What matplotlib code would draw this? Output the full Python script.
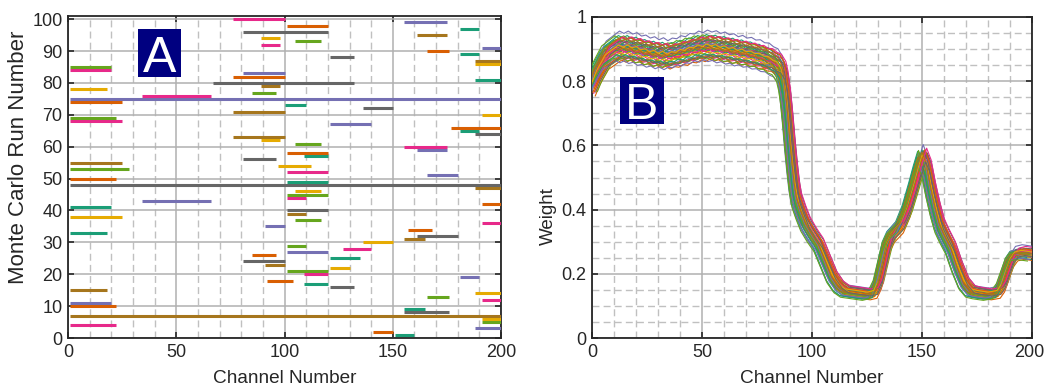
import matplotlib
matplotlib.use('Agg')
import matplotlib.pyplot as plt
from matplotlib.patches import Rectangle
from matplotlib.ticker import MultipleLocator
from matplotlib.transforms import ScaledTranslation

plt.rcParams['font.family'] = ['Liberation Sans Narrow', 'Liberation Sans', 'DejaVu Sans']

# Dark2 colour order used by both panels
colors = ['#1b9e77', '#d95f02', '#7570b3', '#e7298a',
          '#66a61e', '#e6ab02', '#a6761d', '#666666']

# Panel A: channel range kept for each Monte Carlo run (runs 1..100)
runs = list(range(1, 101))
seg_start = [151, 141, 188, 1, 191, 191, 1, 155, 155, 1,
             1, 191, 166, 188, 1, 121, 109, 92, 181, 109,
             101, 121, 91, 81, 121, 85, 101, 127, 101, 136,
             155, 161, 1, 157, 91, 191, 105, 1, 101, 101,
             1, 191, 34, 101, 101, 105, 188, 1, 101, 1,
             166, 101, 1, 97, 1, 81, 109, 101, 161, 155,
             105, 89, 76, 188, 181, 177, 121, 1, 1, 191,
             76, 136, 100, 1, 1, 34, 85, 1, 89, 67,
             188, 76, 81, 1, 1, 188, 188, 121, 181, 166,
             191, 89, 105, 89, 161, 81, 181, 101, 155, 76]
seg_end = [160, 150, 200, 22, 200, 200, 200, 176, 165, 22,
           20, 200, 176, 200, 18, 132, 120, 104, 190, 120,
           120, 130, 100, 100, 135, 96, 120, 140, 110, 150,
           165, 180, 18, 168, 100, 200, 117, 25, 110, 120,
           20, 200, 66, 110, 120, 117, 200, 200, 120, 22,
           180, 120, 28, 112, 25, 96, 120, 120, 175, 175,
           117, 98, 100, 200, 190, 200, 140, 25, 22, 200,
           100, 150, 110, 25, 200, 66, 96, 18, 98, 132,
           200, 100, 100, 20, 20, 200, 200, 132, 190, 176,
           200, 98, 117, 98, 175, 120, 190, 120, 175, 100]

# Panel B: typical weight curve
base_ch = [0, 2, 4, 6, 8, 10, 12, 14, 16, 18, 20, 22, 24, 26, 28, 30, 32, 34,
           36, 38, 40, 42, 44, 46, 48, 50, 52, 54, 56, 58, 60, 62, 64, 66, 68,
           70, 72, 74, 76, 78, 80, 82, 84, 86, 87, 88, 89, 90, 91, 92, 93, 95,
           97, 100, 103, 106, 109, 112, 115, 120, 125, 128, 130, 132, 134, 136,
           138, 140, 143, 146, 148, 150, 152, 154, 156, 158, 160, 163, 166, 169,
           172, 175, 180, 184, 186, 188, 190, 192, 195, 200]
base_w = [0.79, 0.825, 0.85, 0.875, 0.885, 0.895, 0.905, 0.898, 0.905, 0.896,
          0.9, 0.89, 0.893, 0.884, 0.888, 0.879, 0.885, 0.876, 0.884, 0.882,
          0.891, 0.888, 0.898, 0.896, 0.905, 0.9, 0.908, 0.902, 0.906, 0.898,
          0.902, 0.894, 0.897, 0.888, 0.892, 0.884, 0.886, 0.878, 0.879, 0.87,
          0.869, 0.858, 0.852, 0.83, 0.80, 0.75, 0.68, 0.60, 0.53, 0.47, 0.43,
          0.39, 0.355, 0.32, 0.29, 0.24, 0.19, 0.16, 0.145, 0.14, 0.135, 0.14,
          0.17, 0.23, 0.29, 0.32, 0.335, 0.35, 0.40, 0.47, 0.52, 0.565, 0.53,
          0.46, 0.40, 0.35, 0.32, 0.28, 0.22, 0.17, 0.145, 0.14, 0.135, 0.14,
          0.16, 0.20, 0.24, 0.26, 0.265, 0.26]

# spread of the Monte Carlo runs around the typical curve
run_shift = [-2.0, 1.5, 0.5, -1.0, 2.5, -0.5, 1.0, -1.5, 0.0, 2.0, -2.5, 0.8,
             -0.8, 1.8, -1.2, 0.3, -0.3, 1.2, -1.8, 2.2, -2.2, 0.6, -0.6, 1.4,
             -1.4, 0.2, -0.2, 1.6, -1.6, 0.9, -0.9, 2.4, -2.4, 0.4, -0.4, 1.1,
             -1.1, 1.9, -1.9, 0.7, -0.7, 1.3, -1.3, 2.1, -2.1, 0.1, -0.1, 1.7]
run_scale = [1.02, 0.97, 1.04, 0.99, 0.96, 1.03, 1.0, 0.98, 1.05, 0.97, 1.01,
             0.96, 1.03, 0.99, 1.02, 0.98, 1.04, 0.97, 1.0, 1.03, 0.96, 1.01,
             0.99, 1.04, 0.98, 1.02, 0.97, 1.0, 1.05, 0.98, 1.01, 0.99, 1.03,
             0.96, 1.02, 0.98, 1.04, 0.97, 1.0, 1.01, 0.99, 1.03, 0.96, 1.02,
             0.98, 1.0, 1.04, 0.97]
run_offset = [0.005, -0.012, 0.015, -0.004, 0.01, -0.018, 0.0, 0.012, -0.008,
              0.018, -0.015, 0.004, -0.01, 0.008, -0.002, 0.014, -0.016, 0.002,
              0.01, -0.006, 0.016, -0.012, 0.006, -0.004, 0.012, -0.014, 0.0,
              0.009, -0.009, 0.003, -0.003, 0.017, -0.017, 0.007, -0.007, 0.011,
              -0.011, 0.001, -0.001, 0.013, -0.013, 0.005, -0.005, 0.015, -0.015,
              0.008, -0.008, 0.0]

x_ticks = [0, 50, 100, 150, 200]
box_color = '#000080'
grid_major = '#b0b0b0'
grid_minor = '#c0c0c0'
text_color = '#262626'
wide_font = ['Liberation Sans', 'DejaVu Sans']


def style_axes(ax):
    ax.grid(True, which='major', color=grid_major, lw=1.1, ls='-', zorder=0)
    ax.grid(True, which='minor', color=grid_minor, lw=1.0, ls=(0, (5, 3)), zorder=0)
    ax.set_axisbelow(True)
    ax.tick_params(which='major', direction='in', length=4, width=1.2,
                   top=True, right=True, labelsize=13, colors=text_color, pad=4)
    ax.tick_params(which='minor', length=0)
    for s in ax.spines.values():
        s.set_linewidth(1.3)
        s.set_color(text_color)
    ax.set_xlim(0, 200)
    ax.set_xticks(x_ticks)
    ax.xaxis.set_minor_locator(MultipleLocator(10))
    ax.set_xlabel('Channel Number', fontsize=13.7, color=text_color)
    ax.xaxis.set_label_coords(0.5, -0.1)


fig = plt.figure(figsize=(10.45, 3.89), dpi=100)

# ---- panel A
axA = fig.add_axes([0.0651, 0.1311, 0.4144, 0.8278])
style_axes(axA)
for r, a, b in zip(runs, seg_start, seg_end):
    axA.plot([a, b], [r, r], color=colors[(r - 1) % 8], lw=2.2,
             solid_capstyle='butt', zorder=3)
axA.set_ylim(0, 101)
axA.yaxis.set_major_locator(MultipleLocator(10))
axA.set_ylabel('Monte Carlo Run Number', fontsize=16, color=text_color,
               family=wide_font)
axA.yaxis.set_label_coords(-0.09, 0.56)
axA.add_patch(Rectangle((0.161, 0.81), 0.10, 0.15, transform=axA.transAxes,
                        fc=box_color, ec='none', zorder=5))
axA.text(0.211, 0.826, 'A', transform=axA.transAxes, color='white',
         fontsize=36, ha='center', va='baseline', zorder=6, family=wide_font)

# ---- panel B
axB = fig.add_axes([0.5665, 0.1311, 0.4211, 0.8252])
style_axes(axB)
for i, (dx, sc, dy) in enumerate(zip(run_shift, run_scale, run_offset)):
    xs = [c + dx for c in base_ch]
    ys = [w * sc + dy for w in base_w]
    axB.plot(xs, ys, color=colors[i % 8], lw=0.8, zorder=3)
axB.set_ylim(0, 1)
axB.yaxis.set_minor_locator(MultipleLocator(0.05))
axB.set_yticks([0, 0.2, 0.4, 0.6, 0.8, 1.0])
axB.set_yticklabels(['0', '0.2', '0.4', '0.6', '0.8', '1'])
axB.set_ylabel('Weight', fontsize=13.5, color=text_color, family=wide_font)
axB.yaxis.set_label_coords(-0.08, 0.38)
axB.add_patch(Rectangle((0.0636, 0.666), 0.10, 0.148, transform=axB.transAxes,
                        fc=box_color, ec='none', zorder=5))
axB.text(0.1136, 0.682, 'B', transform=axB.transAxes, color='white',
         fontsize=36, ha='center', va='baseline', zorder=6, family=wide_font)

# keep the last tick label of panel B inside the picture
last = axB.xaxis.get_major_ticks()[-1].label1
last.set_transform(last.get_transform() + ScaledTranslation(-3 / 100, 0, fig.dpi_scale_trans))

fig.savefig('out.png', dpi=100)
